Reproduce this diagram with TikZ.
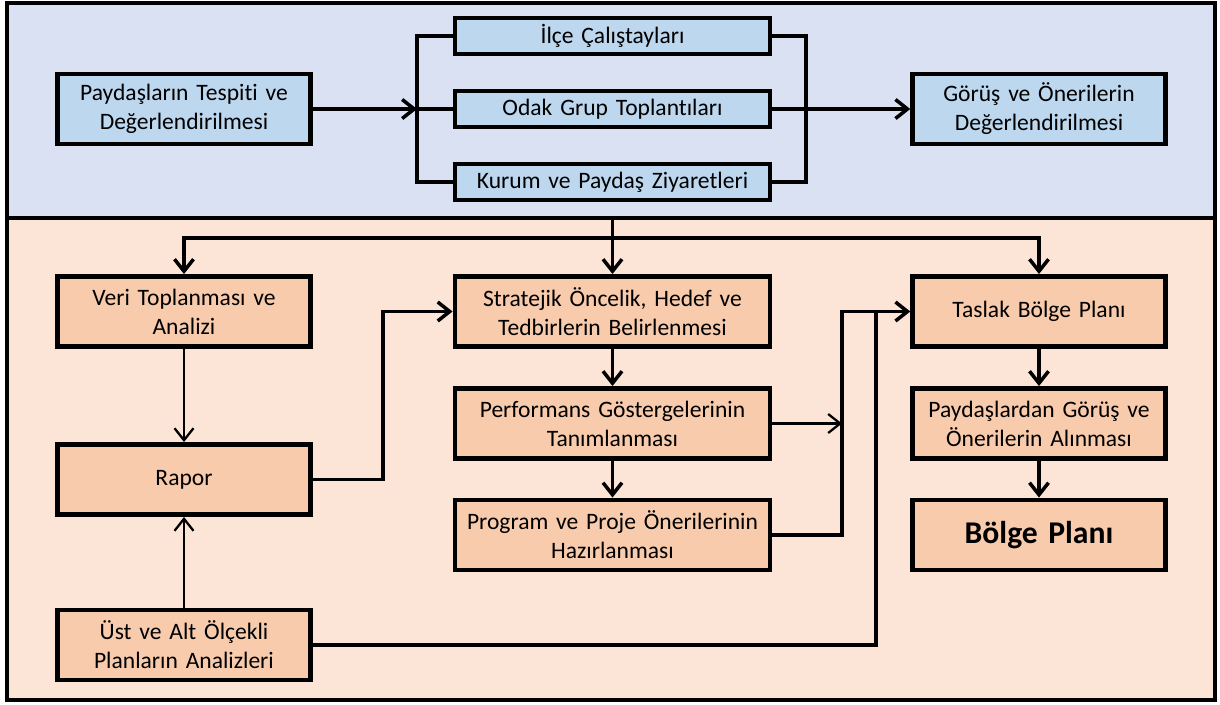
\documentclass[tikz,border=0pt]{standalone}
\usepackage{fontspec}
\setmainfont{Carlito}[RawFeature={-liga}]
\usepackage{xcolor}
\usetikzlibrary{arrows.meta}
\definecolor{topbg}{HTML}{DAE1F3}
\definecolor{topbox}{HTML}{BDD7EE}
\definecolor{botbg}{HTML}{FCE4D6}
\definecolor{botbox}{HTML}{F8CBAD}

\begin{document}
\begin{tikzpicture}
    [auto,
 panel/.style ={rectangle, draw=black, line width=2pt},
 block/.style ={rectangle, draw=black, line width=2.8pt, fill=topbox, text width=4.95cm, align=center, minimum width=5.05cm, minimum height=1.4cm, inner sep=0pt, font=\fontsize{13.4}{16.5}\selectfont},
 block1/.style ={block, fill=botbox},
 subbox/.style ={block, text width=6.2cm, minimum width=6.3cm, minimum height=0.72cm},
 midbox/.style ={block1, text width=6.2cm, minimum width=6.3cm},
 line/.style ={draw, line width=2pt, -{Straight Barb[length=2.4mm,width=3.8mm]}},
 thinline/.style ={line, line width=1.3pt},
 bar/.style ={draw, line width=2pt}]
        \useasboundingbox (0,0) rectangle (24.4,-14.08);
        \draw[panel, fill=topbg] (0.14,-0.06) rectangle (24.3,-4.36);
        \draw[panel, fill=botbg] (0.14,-4.36) rectangle (24.3,-14.0);

        % katilim asamasi
        \node[block] (tespit) at (3.68,-2.18) {Paydaşların Tespiti ve\\ Değerlendirilmesi};
        \node[subbox] (ilce) at (12.25,-0.72) {İlçe Çalıştayları};
        \node[subbox] (odak) at (12.25,-2.18) {Odak Grup Toplantıları};
        \node[subbox] (kurum) at (12.25,-3.64) {Kurum ve Paydaş Ziyaretleri};
        \node[block] (gorus) at (20.78,-2.18) {Görüş ve Önerilerin\\ Değerlendirilmesi};
        \coordinate (lbar) at (8.34,-2.18);
        \coordinate (rbar) at (16.12,-2.18);
        \draw[line] (tespit.east) -- (lbar);
        \draw[bar] (ilce.west) -| (lbar) |- (kurum.west);
        \draw[bar] (lbar) -- (odak.west);
        \draw[bar] (ilce.east) -| (rbar) |- (kurum.east);
        \draw[line] (odak.east) -- (gorus.west);

        % plan hazirlik asamasi
        \node[block1] (veri) at (3.68,-6.23) {Veri Toplanması ve\\ Analizi};
        \node[block1] (rapor) at (3.68,-9.59) {Rapor};
        \node[block1] (ust) at (3.68,-12.9) {Üst ve Alt Ölçekli\\ Planların Analizleri};
        \node[midbox] (strat) at (12.25,-6.23) {Stratejik Öncelik, Hedef ve\\ Tedbirlerin Belirlenmesi};
        \node[midbox] (perf) at (12.25,-8.47) {Performans Göstergelerinin\\ Tanımlanması};
        \node[midbox] (prog) at (12.25,-10.7) {Program ve Proje Önerilerinin\\ Hazırlanması};
        \node[block1] (taslak) at (20.78,-6.23) {Taslak Bölge Planı};
        \node[block1] (alinma) at (20.78,-8.47) {Paydaşlardan Görüş ve\\ Önerilerin Alınması};
        \node[block1, font=\fontsize{18}{21}\selectfont\bfseries] (bolge) at (20.78,-10.7) {Bölge Planı};

        \coordinate (split) at (12.25,-4.36);
        \coordinate (fork) at (12.25,-4.76);
        \coordinate (rbend) at (7.66,-9.59);
        \coordinate (join) at (16.84,-6.23);
        \coordinate (join2) at (17.52,-6.23);
        \draw[line] (split) -- (strat);
        \draw[line] (fork) -| (veri);
        \draw[line] (fork) -| (taslak);
        \draw[thinline] (veri) -- (rapor);
        \draw[thinline] (ust) -- (rapor);
        \draw[line] (rapor.east) -- (rbend) |- (strat.west);
        \draw[line] (strat) -- (perf);
        \draw[line] (perf) -- (prog);
        \draw[thinline] (perf.east) -- (perf.east -| join);
        \draw[line] (prog.east) -| (join) -- (taslak.west);
        \draw[bar] (ust.east) -| (join2);
        \draw[line] (taslak) -- (alinma);
        \draw[line] (alinma) -- (bolge);
    \end{tikzpicture}
\end{document}
